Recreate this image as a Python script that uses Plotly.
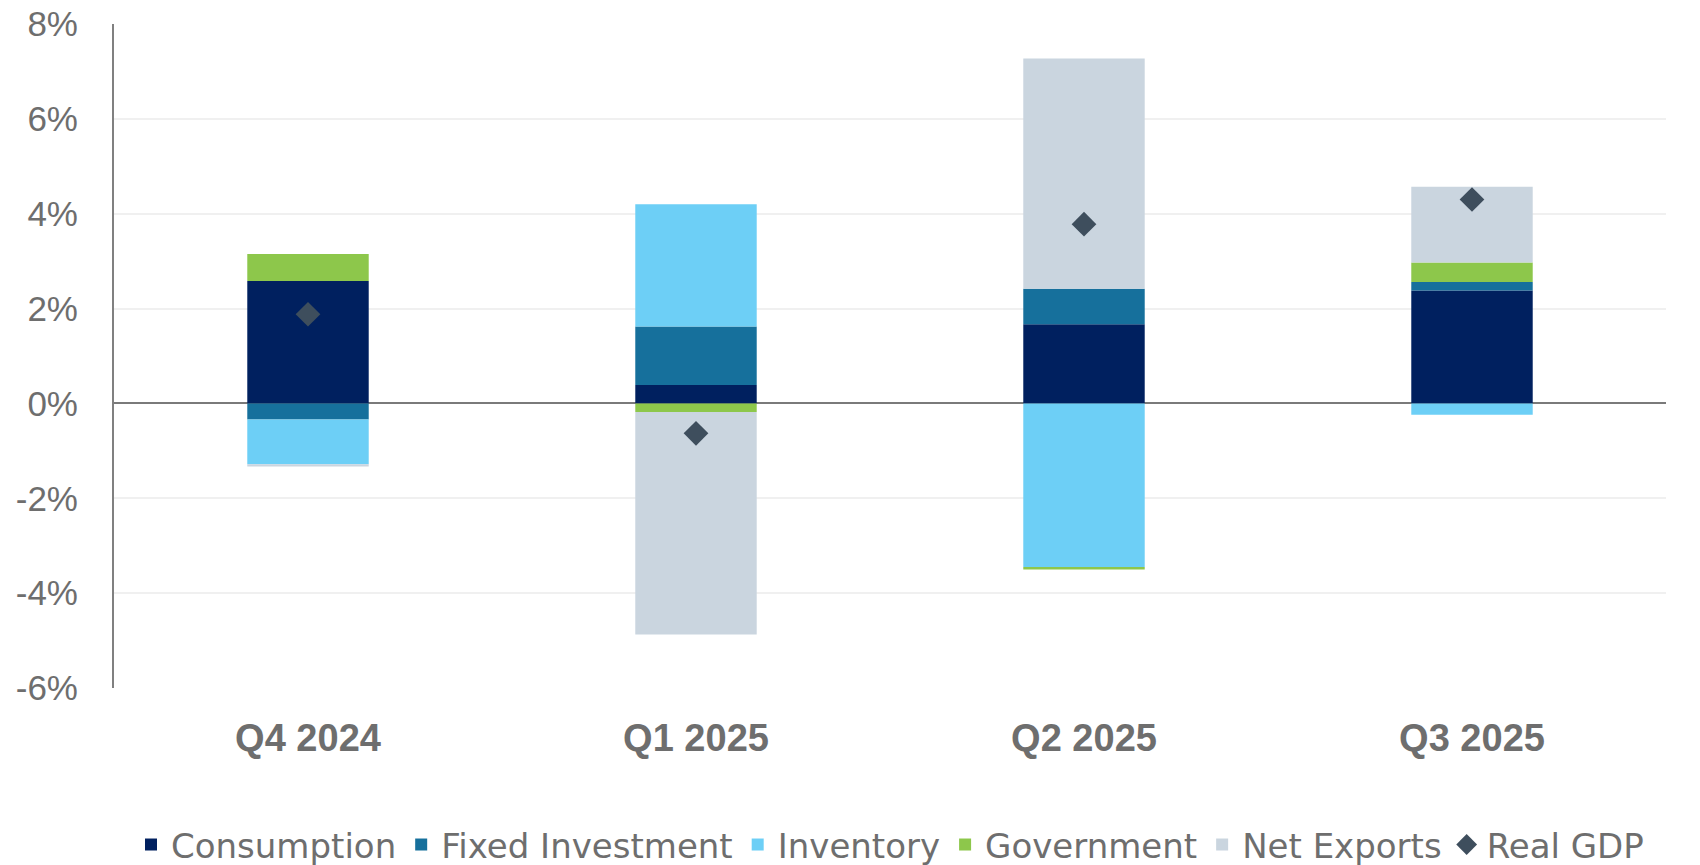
import plotly.graph_objects as go

quarters = ["Q4 2024", "Q1 2025", "Q2 2025", "Q3 2025"]

consumption = [2.58, 0.39, 1.67, 2.38]
fixed_investment = [-0.34, 1.23, 0.75, 0.18]
inventory = [-0.94, 2.58, -3.45, -0.24]
government = [0.57, -0.18, -0.05, 0.41]
net_exports = [-0.05, -4.69, 4.85, 1.60]
real_gdp = [1.88, -0.63, 3.78, 4.30]

y_ticks = [-6, -4, -2, 0, 2, 4, 6, 8]
y_tick_labels = ["-6%", "-4%", "-2%", "0%", "2%", "4%", "6%", "8%"]

series = [
    ("Consumption", consumption, "#00205F"),
    ("Fixed Investment", fixed_investment, "#16709C"),
    ("Inventory", inventory, "#6DCFF6"),
    ("Government", government, "#8DC74B"),
    ("Net Exports", net_exports, "#CAD5DF"),
]

fig = go.Figure()
for name, vals, color in series:
    fig.add_trace(go.Bar(
        x=quarters, y=vals, name=name,
        marker=dict(color=color, line=dict(width=0)),
    ))

fig.add_trace(go.Scatter(
    x=quarters, y=real_gdp, name="Real GDP", mode="markers",
    marker=dict(symbol="diamond", size=19, color="#3E4E5D"),
))

grey = "#6E6E6E"
# page body has an 8px margin, so the margins are shifted to compensate
fig.update_layout(
    barmode="relative",
    bargap=0.687,
    width=1700, height=865,
    margin=dict(l=106, r=42, t=16, b=185),
    plot_bgcolor="white",
    paper_bgcolor="white",
    font=dict(family="Liberation Sans, Arial, sans-serif", color=grey),
    legend=dict(
        orientation="h", x=0.5, xanchor="center",
        yref="container", y=0.066, yanchor="top",
        font=dict(family="DejaVu Sans, sans-serif", size=34, color=grey),
        itemwidth=30, tracegroupgap=0,
    ),
    xaxis=dict(
        showline=False, showgrid=False,
        ticks="outside", ticklen=16, tickcolor="white",
        tickfont=dict(size=38, color=grey, family="Liberation Sans, Arial, sans-serif", weight="bold"),
    ),
    yaxis=dict(
        range=[-6, 8], tickvals=y_ticks, ticktext=y_tick_labels,
        showgrid=True, gridcolor="#F0F0F0", gridwidth=2,
        showline=True, linecolor="#808080", linewidth=2,
        zeroline=True, zerolinecolor="#7A7A7A", zerolinewidth=2,
        tickfont=dict(size=35, color=grey),
        ticks="outside", ticklen=27, tickcolor="white",
        ticklabeloverflow="allow", automargin=False,
    ),
)

fig.write_html("out.html")
